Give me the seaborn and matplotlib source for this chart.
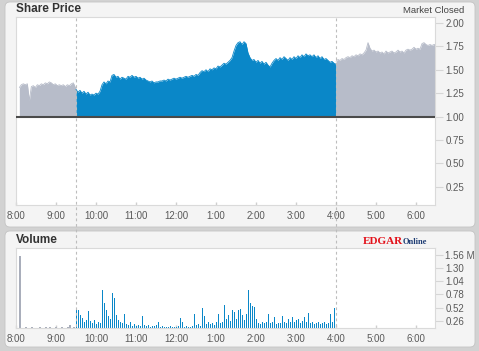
import numpy as np
import pandas as pd
import matplotlib
matplotlib.use("Agg")
import matplotlib.pyplot as plt
import matplotlib.transforms as mtransforms
from matplotlib.patches import FancyBboxPatch
from matplotlib.lines import Line2D
import seaborn as sns

# ---------------- data ----------------
STEP_MIN = 3
pre_start = 8 + 5 / 60      # 8:05
mkt_start = 9.5             # 9:30
post_start = 16.0           # 4:00 pm

pre_price = [1.31, 1.34, 1.35, 1.34, 1.35, 1.17, 1.32, 1.33, 1.31, 1.34,
             1.33, 1.35, 1.34, 1.36, 1.35, 1.37, 1.36, 1.34, 1.35, 1.33,
             1.34, 1.33, 1.34, 1.32, 1.34, 1.33, 1.35, 1.36, 1.31]

mkt_price = [1.29, 1.26, 1.28, 1.25, 1.27, 1.24, 1.26, 1.23, 1.24, 1.23,
             1.25, 1.24, 1.27, 1.34, 1.37, 1.35, 1.38, 1.37, 1.44, 1.45,
             1.42, 1.43, 1.40, 1.42, 1.41, 1.40, 1.43, 1.42, 1.44, 1.42,
             1.43, 1.41, 1.42, 1.40, 1.41, 1.39, 1.38, 1.37, 1.38, 1.36,
             1.37, 1.37, 1.38, 1.38, 1.39, 1.38, 1.40, 1.39, 1.40, 1.41,
             1.40, 1.41, 1.42, 1.41, 1.42, 1.43, 1.42, 1.43, 1.44, 1.43,
             1.45, 1.44, 1.47, 1.49, 1.48, 1.50, 1.48, 1.51, 1.50, 1.52,
             1.51, 1.54, 1.53, 1.55, 1.57, 1.56, 1.58, 1.60, 1.63, 1.70,
             1.76, 1.79, 1.80, 1.77, 1.80, 1.78, 1.68, 1.63, 1.60, 1.61,
             1.58, 1.60, 1.57, 1.59, 1.56, 1.58, 1.55, 1.53, 1.57, 1.60,
             1.62, 1.60, 1.63, 1.61, 1.64, 1.62, 1.60, 1.63, 1.61, 1.64,
             1.62, 1.65, 1.63, 1.66, 1.64, 1.67, 1.65, 1.66, 1.64, 1.66,
             1.63, 1.65, 1.62, 1.64, 1.61, 1.62, 1.60, 1.58, 1.59, 1.57,
             1.56]

post_price = [1.59, 1.61, 1.60, 1.62, 1.61, 1.63, 1.64, 1.63, 1.65, 1.64,
              1.66, 1.65, 1.67, 1.66, 1.68, 1.71, 1.79, 1.73, 1.70, 1.71,
              1.69, 1.70, 1.68, 1.69, 1.67, 1.70, 1.68, 1.69, 1.70, 1.68,
              1.69, 1.71, 1.69, 1.70, 1.68, 1.71, 1.72, 1.71, 1.72, 1.74,
              1.72, 1.73, 1.72, 1.78, 1.79, 1.77, 1.76, 1.77, 1.76, 1.77]

prev_close = 1.00

# volume in millions
pre_vol = [1.53, 0.13, 0.13, 0.14, 0.13, 0.13, 0.14, 0.13, 0.13, 0.13,
           0.14, 0.13, 0.13, 0.14, 0.13, 0.14, 0.13, 0.13, 0.14, 0.13,
           0.13, 0.14, 0.13, 0.13, 0.14, 0.19, 0.13, 0.14, 0.13]

mkt_vol = [0.50, 0.47, 0.37, 0.31, 0.24, 0.28, 0.45, 0.26, 0.22, 0.28,
           0.20, 0.25, 0.22, 0.87, 0.62, 0.47, 0.36, 0.30, 0.80, 0.72,
           0.37, 0.28, 0.24, 0.22, 0.39, 0.20, 0.18, 0.24, 0.17, 0.20,
           0.16, 0.19, 0.17, 0.36, 0.18, 0.16, 0.18, 0.15, 0.17, 0.16,
           0.18, 0.25, 0.15, 0.16, 0.14, 0.15, 0.14, 0.16, 0.14, 0.15,
           0.14, 0.16, 0.31, 0.25, 0.15, 0.16, 0.14, 0.15, 0.16, 0.40,
           0.18, 0.21, 0.16, 0.52, 0.36, 0.20, 0.25, 0.20, 0.22, 0.19,
           0.24, 0.40, 0.22, 0.25, 0.58, 0.30, 0.37, 0.26, 0.47, 0.44,
           0.30, 0.47, 0.50, 0.37, 0.28, 0.40, 0.87, 0.62, 0.56, 0.53,
           0.30, 0.23, 0.21, 0.25, 0.22, 0.24, 0.40, 0.22, 0.24, 0.33,
           0.21, 0.23, 0.22, 0.36, 0.24, 0.22, 0.30, 0.25, 0.33, 0.24,
           0.27, 0.30, 0.23, 0.26, 0.33, 0.25, 0.42, 0.22, 0.24, 0.21,
           0.23, 0.25, 0.20, 0.22, 0.24, 0.21, 0.23, 0.40, 0.25, 0.51]

hour_ticks = [8, 9, 10, 11, 12, 13, 14, 15, 16, 17, 18]
hour_labels = ["8:00", "9:00", "10:00", "11:00", "12:00", "1:00",
               "2:00", "3:00", "4:00", "5:00", "6:00"]
price_ticks = [0.25, 0.50, 0.75, 1.00, 1.25, 1.50, 1.75, 2.00]
vol_ticks = [0.26, 0.52, 0.78, 1.04, 1.30, 1.56]
vol_labels = ["0.26", "0.52", "0.78", "1.04", "1.30", "1.56 M"]

# ---------------- style ----------------
sns.set_theme(style="white")
plt.rcParams["font.family"] = ["Liberation Sans", "DejaVu Sans"]

BLUE = "#0a87c8"
GREY_FILL = "#b7bcc9"
TXT = "#5a5a5a"
W, H = 479, 351

fig = plt.figure(figsize=(W / 100, H / 100), dpi=100, facecolor="#d2d2d2")


def fx(x):
    return x / W


def fy(y):
    return 1 - y / H


# panel cards
for (x0, y0, x1, y1) in [(5, 2, 475, 227), (5, 231, 475, 347)]:
    card = FancyBboxPatch(((x0) / 100, (H - y1) / 100), (x1 - x0) / 100, (y1 - y0) / 100,
                          boxstyle="round,pad=0,rounding_size=0.05",
                          transform=fig.dpi_scale_trans, facecolor="#f4f4f4",
                          edgecolor="#c4c4c4", linewidth=0.6, zorder=-5)
    fig.add_artist(card)

ax1 = fig.add_axes([fx(16), fy(205), fx(435) - fx(16), fy(17.3) - fy(205)])
ax2 = fig.add_axes([fx(16), fy(328), fx(435) - fx(16), fy(248) - fy(328)])

XMIN, XMAX = 8.0, 18.475


def times(start, n):
    return start + np.arange(n) * STEP_MIN / 60


def segment(ax, start, end, values, color):
    t = np.append(times(start, len(values)), end)
    p = np.append(np.asarray(values, float), values[-1])
    df = pd.DataFrame({"t": t, "p": p})
    ax.fill_between(df["t"], prev_close, df["p"], color=color, lw=0, zorder=2)
    sns.lineplot(data=df, x="t", y="p", ax=ax, color=color, lw=0.6,
                 estimator=None, zorder=3)


segment(ax1, pre_start, mkt_start, pre_price, GREY_FILL)
segment(ax1, mkt_start, post_start, mkt_price, BLUE)
segment(ax1, post_start, XMAX, post_price, GREY_FILL)
ax1.axhline(prev_close, color="#4a4a4a", lw=1.5, zorder=4)

# volume bars
bw = STEP_MIN / 60 * 0.6
ax2.bar(times(pre_start, len(pre_vol)), pre_vol, width=bw, align="edge",
        color="#a9aebb", lw=0, zorder=2)
ax2.bar(times(mkt_start, len(mkt_vol)), mkt_vol, width=bw, align="edge",
        color=BLUE, lw=0, zorder=2)

for ax in (ax1, ax2):
    ax.set_facecolor("white")
    ax.set_xlim(XMIN, XMAX)
    ax.set_xticks(hour_ticks)
    ax.set_xticklabels(hour_labels)
    ax.set_xlabel("")
    ax.set_ylabel("")
    ax.yaxis.tick_right()
    for s in ax.spines.values():
        s.set_color("#dadada")
        s.set_linewidth(0.8)
    ax.tick_params(axis="x", direction="in", length=2.5, width=1, color="#cfcfcf",
                   labelsize=7, labelcolor=TXT, pad=4, bottom=True)
    ax.tick_params(axis="y", direction="out", length=6, width=0.8, color="#d6d6d6",
                   labelsize=7, labelcolor=TXT, pad=1.5, right=True, left=False)
    ax.grid(False)

ax1.set_ylim(0.054, 2.061)
ax1.set_yticks(price_ticks)
ax1.set_yticklabels([f"{v:.2f}" for v in price_ticks])

ax2.set_ylim(0.123, 1.69)
ax2.set_yticks(vol_ticks)
ax2.set_yticklabels(vol_labels)

# dashed session boundaries spanning both panels
blend = mtransforms.blended_transform_factory(ax1.transData, fig.transFigure)
for t in (mkt_start, post_start):
    fig.add_artist(Line2D([t, t], [fy(18), fy(328)], transform=blend,
                          color="#bdbdbd", lw=0.8, ls=(0, (2.5, 2.5)), zorder=10))

# titles and labels
fig.text(fx(16), fy(8.5), "Share Price", fontsize=8.5, fontweight="bold",
         color="#333333", va="center", ha="left")
fig.text(fx(16), fy(240), "Volume", fontsize=8.5, fontweight="bold",
         color="#333333", va="center", ha="left")
fig.text(fx(464), fy(10.5), "Market Closed", fontsize=6.8, color="#444444",
         va="center", ha="right")
fig.text(fx(363), fy(244), "EDGAR", fontsize=8, fontweight="bold",
         color="#e3121b", family=["Liberation Serif", "DejaVu Serif"],
         va="baseline", ha="left")
fig.text(fx(403), fy(244), "Online", fontsize=6, fontweight="bold",
         color="#1b3a72", family=["Liberation Serif", "DejaVu Serif"],
         va="baseline", ha="left")

fig.savefig("out.png", dpi=100, facecolor=fig.get_facecolor())
